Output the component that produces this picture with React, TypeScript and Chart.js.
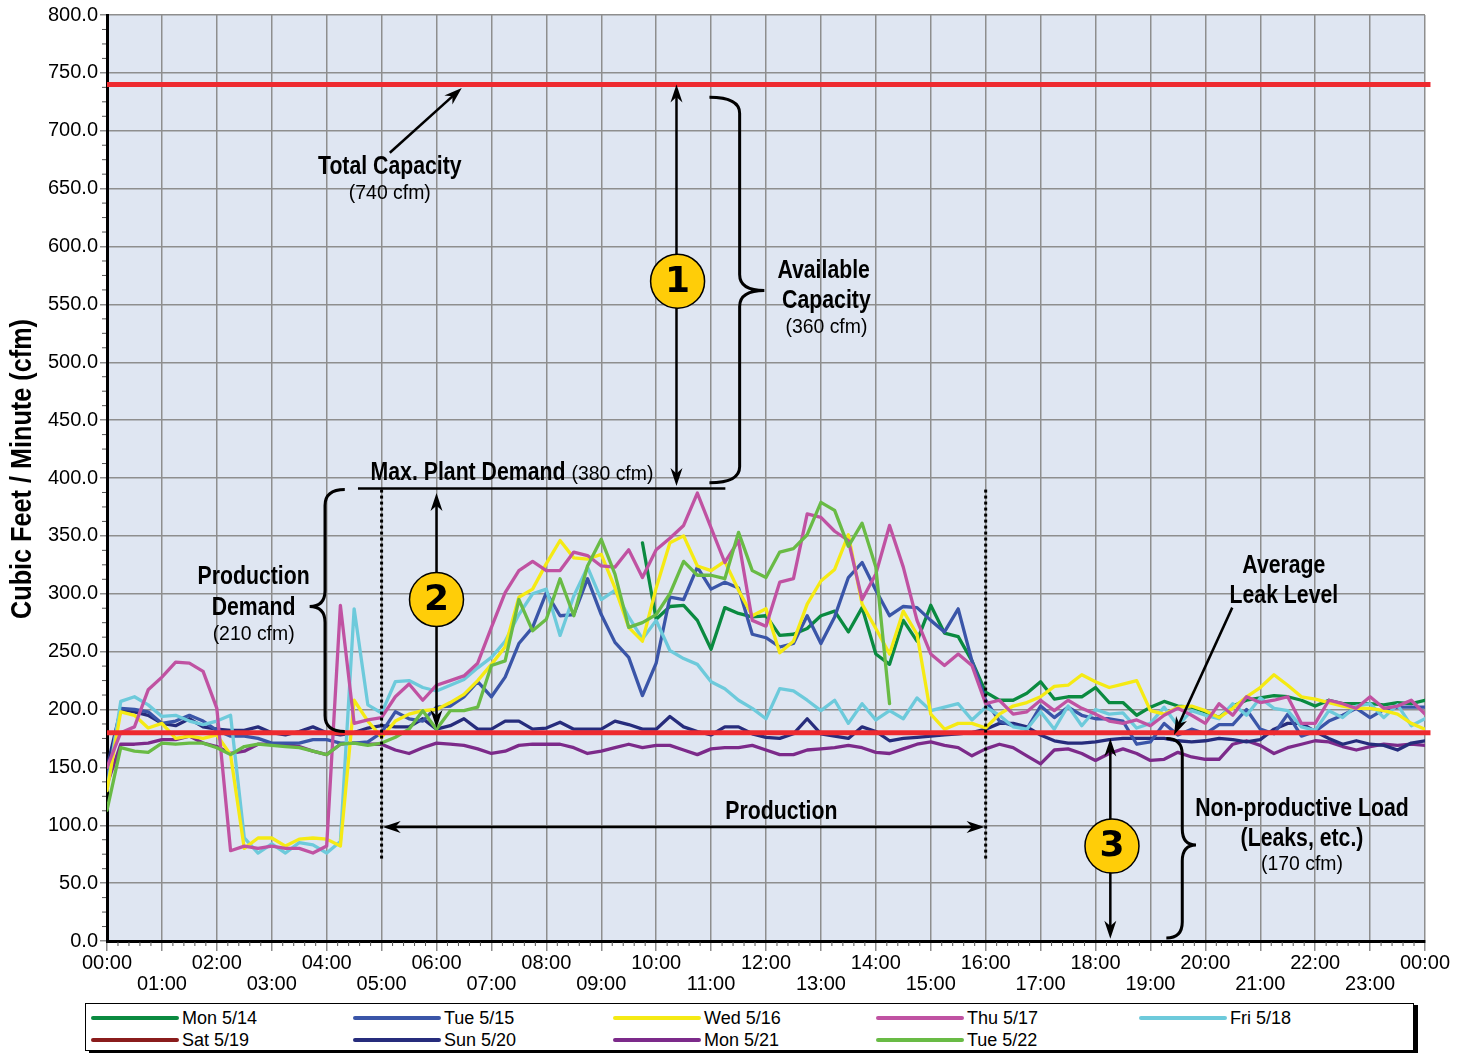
import React, { useEffect, useRef } from "react";
import { Chart, registerables } from "chart.js";

Chart.register(...registerables);

// ---------- data ----------
const STEP_HOURS = 0.25;
const times: number[] = Array.from({ length: 97 }, (_, i) => i * STEP_HOURS);
const hourTicks: number[] = Array.from({ length: 25 }, (_, i) => i);

const seriesNames = ["Mon 5/14", "Tue 5/15", "Wed 5/16", "Thu 5/17", "Fri 5/18", "Sat 5/19", "Sun 5/20", "Mon 5/21", "Tue 5/22"];
const seriesColors = ["#0a8a40", "#3a55a8", "#f5ea14", "#c052a2", "#6dcadb", "#8a1c1c", "#262c7c", "#7c2a8a", "#69bb45"];

const mon514: (number | null)[] = [
  ...Array(39).fill(null),
  344, 278, 289, 290, 277, 252, 288, 283, 280, 281,
  264, 265, 270, 281, 285, 267, 288, 248, 239, 277,
  259, 290, 266, 263, 242, 215, 208, 208, 214, 224,
  209, 211, 211, 219, 206, 206, 195, 202, 207, 203,
  202, 198, 193, 203, 208, 210, 212, 211, 208, 203,
  208, 205, 205, 205, 204, 206, 205, 208,
];
const tue515: (number | null)[] = [
  140, 201, 200, 198, 188, 190, 195, 190, 182, 177,
  177, 175, 171, 171, 171, 174, 174, 171, 171, 172,
  180, 198, 192, 190, 202, 203, 211, 224, 211, 228,
  257, 271, 301, 281, 282, 313, 282, 258, 245, 212,
  240, 297, 295, 323, 304, 310, 305, 265, 262, 254,
  257, 281, 257, 280, 314, 327, 303, 281, 289, 288,
  277, 267, 287, 242, 208, 190, 186, 183, 203, 193,
  202, 195, 192, 192, 190, 170, 172, 188, 178, 183,
  179, 187, 187, 200, 183, 179, 196, 177, 181, 190,
  195, 201, 193, 200, 202, 202, 202,
];
const wed516: (number | null)[] = [
  130, 198, 195, 184, 188, 175, 177, 175, 178, 161,
  80, 89, 89, 82, 88, 89, 88, 82, 208, 190,
  176, 190, 196, 199, 200, 206, 213, 225, 239, 254,
  297, 304, 326, 346, 331, 330, 334, 305, 271, 259,
  305, 344, 350, 324, 320, 328, 303, 281, 287, 249,
  259, 291, 311, 321, 351, 291, 270, 248, 285, 265,
  196, 183, 188, 188, 184, 196, 203, 206, 211, 220,
  221, 230, 224, 219, 222, 225, 199, 196, 202, 203,
  199, 193, 201, 211, 219, 230, 221, 211, 209, 206,
  203, 201, 201, 199, 196, 188, 183,
];
const thu517: (number | null)[] = [
  150, 180, 185, 217, 228, 241, 240, 233, 201, 78,
  82, 80, 82, 80, 80, 76, 82, 290, 188, 191,
  193, 211, 222, 208, 221, 225, 229, 240, 271, 301,
  320, 328, 320, 320, 336, 333, 324, 323, 338, 314,
  338, 348, 359, 387, 357, 327, 346, 277, 272, 310,
  313, 369, 366, 354, 346, 295, 317, 359, 323, 277,
  248, 238, 248, 238, 205, 208, 196, 198, 208, 199,
  208, 201, 196, 190, 188, 191, 186, 195, 201, 195,
  188, 205, 195, 211, 206, 208, 211, 188, 188, 208,
  205, 201, 211, 201, 203, 208, 196,
];
const fri518: (number | null)[] = [
  130, 207, 211, 204, 194, 195, 190, 187, 190, 195,
  89, 76, 84, 76, 85, 83, 76, 86, 287, 204,
  197, 224, 225, 219, 216, 221, 226, 236, 245, 259,
  282, 300, 304, 264, 298, 323, 295, 303, 280, 261,
  277, 251, 244, 239, 224, 218, 208, 201, 192, 218,
  216, 208, 199, 208, 188, 205, 191, 199, 192, 210,
  199, 202, 205, 191, 202, 195, 185, 183, 198, 183,
  203, 186, 200, 196, 197, 184, 188, 202, 186, 199,
  195, 192, 205, 195, 210, 201, 199, 185, 182, 199,
  193, 203, 205, 193, 204, 186, 192,
];
const sat519: (number | null)[] = [];
const sun520: (number | null)[] = [
  150, 200, 198, 195, 188, 186, 192, 185, 183, 182,
  182, 185, 180, 178, 181, 185, 180, 178, 180, 184,
  186, 185, 185, 192, 183, 186, 192, 183, 183, 190,
  190, 183, 184, 189, 183, 183, 183, 190, 187, 183,
  183, 194, 185, 181, 178, 185, 185, 179, 176, 175,
  179, 192, 179, 177, 175, 185, 181, 173, 175, 176,
  177, 178, 179, 180, 183, 188, 188, 185, 178, 173,
  171, 171, 172, 174, 175, 175, 175, 175, 173, 172,
  173, 175, 174, 172, 174, 183, 188, 188, 181, 175,
  170, 173, 170, 169, 165, 171, 173,
];
const mon521: (number | null)[] = [
  135, 170, 170, 171, 174, 174, 177, 171, 168, 162,
  164, 170, 170, 170, 168, 164, 161, 170, 171, 170,
  170, 165, 162, 167, 171, 170, 169, 166, 162, 164,
  169, 170, 170, 170, 167, 162, 164, 167, 170, 167,
  169, 169, 165, 161, 166, 167, 167, 169, 165, 161,
  161, 165, 166, 167, 169, 167, 163, 162, 166, 170,
  172, 169, 167, 160, 166, 170, 167, 160, 153, 165,
  166, 162, 156, 162, 166, 162, 156, 157, 163, 159,
  157, 157, 170, 173, 169, 162, 167, 170, 173, 172,
  168, 165, 168, 170, 169, 170, 169,
];
const tue522: (number | null)[] = [
  113, 167, 164, 163, 171, 170, 171, 171, 167, 161,
  168, 170, 169, 168, 167, 164, 161, 170, 171, 169,
  171, 176, 183, 199, 183, 199, 199, 202, 238, 242,
  295, 268, 278, 313, 281, 324, 347, 317, 271, 275,
  282, 300, 328, 316, 316, 313, 353, 320, 314, 336,
  339, 351, 379, 372, 341, 361, 323, 205,
];
const seriesValues = [mon514, tue515, wed516, thu517, fri518, sat519, sun520, mon521, tue522];

const totalCapacity = 740;
const averageLeakLevel = 180;
const yTickStep = 50;
const yAxisTitle = "Cubic Feet / Minute (cfm)";

// ---------- styles ----------
const PLOT_BG = "#dfe6f2";
const GRID = "#8e8e8e";
const SANS = "'Liberation Sans',Arial,Helvetica,sans-serif";
const RED = "#ee2a2f";
const BADGE = "#ffcd08";

type TextStyle = { font: string; sx: number };
const BOLD: TextStyle = { font: `bold 25px ${SANS}`, sx: 0.85 };
const REG: TextStyle = { font: `20px ${SANS}`, sx: 0.97 };
const TITLE: TextStyle = { font: `bold 29px ${SANS}`, sx: 0.87 };

function arrowHead(ctx: CanvasRenderingContext2D, x1: number, y1: number, x2: number, y2: number) {
  const len = 18, hw = 6;
  const a = Math.atan2(y2 - y1, x2 - x1);
  const c = Math.cos(a), s = Math.sin(a);
  ctx.beginPath();
  ctx.moveTo(x2, y2);
  ctx.lineTo(x2 - len * c + hw * s, y2 - len * s - hw * c);
  ctx.lineTo(x2 - len * 0.7 * c, y2 - len * 0.7 * s);
  ctx.lineTo(x2 - len * c - hw * s, y2 - len * s + hw * c);
  ctx.closePath();
  ctx.fill();
}

function arrow(ctx: CanvasRenderingContext2D, x1: number, y1: number, x2: number, y2: number, both: boolean) {
  const a = Math.atan2(y2 - y1, x2 - x1);
  const c = Math.cos(a), s = Math.sin(a);
  ctx.beginPath();
  ctx.moveTo(both ? x1 + 10 * c : x1, both ? y1 + 10 * s : y1);
  ctx.lineTo(x2 - 10 * c, y2 - 10 * s);
  ctx.stroke();
  arrowHead(ctx, x1, y1, x2, y2);
  if (both) arrowHead(ctx, x2, y2, x1, y1);
}

function brace(ctx: CanvasRenderingContext2D, xa: number, xm: number, xt: number, y1: number, y2: number, yt: number) {
  const r = 16;
  ctx.beginPath();
  ctx.moveTo(xa, y1);
  ctx.quadraticCurveTo(xm, y1, xm, y1 + r);
  ctx.lineTo(xm, yt - r);
  ctx.quadraticCurveTo(xm, yt, xt, yt);
  ctx.quadraticCurveTo(xm, yt, xm, yt + r);
  ctx.lineTo(xm, y2 - r);
  ctx.quadraticCurveTo(xm, y2, xa, y2);
  ctx.stroke();
}

function textWidth(ctx: CanvasRenderingContext2D, s: string, st: TextStyle) {
  ctx.font = st.font;
  return ctx.measureText(s).width * st.sx;
}

function label(ctx: CanvasRenderingContext2D, s: string, x: number, y: number, st: TextStyle, align: CanvasTextAlign = "center", rot = 0) {
  ctx.save();
  ctx.translate(x, y);
  if (rot) ctx.rotate(rot);
  ctx.scale(st.sx, 1);
  ctx.font = st.font;
  ctx.textAlign = align;
  ctx.textBaseline = "middle";
  ctx.fillStyle = "#000";
  ctx.fillText(s, 0, 0);
  ctx.restore();
}

function badge(ctx: CanvasRenderingContext2D, x: number, y: number, s: string) {
  ctx.beginPath();
  ctx.arc(x, y, 27, 0, Math.PI * 2);
  ctx.fillStyle = BADGE;
  ctx.fill();
  ctx.lineWidth = 1.5;
  ctx.strokeStyle = "#000";
  ctx.stroke();
  label(ctx, s, x, y + 1, { font: "bold 36px 'DejaVu Sans',sans-serif", sx: 1 });
}

const annotationPlugin = {
  id: "annotations",
  beforeDraw(chart: any) {
    const { ctx, chartArea: a } = chart;
    ctx.save();
    ctx.fillStyle = PLOT_BG;
    ctx.fillRect(a.left, a.top, a.right - a.left, a.bottom - a.top);
    ctx.restore();
  },
  afterDraw(chart: any) {
    const { ctx, chartArea: a } = chart;
    const X = (t: number) => chart.scales.x.getPixelForValue(t);
    const Y = (v: number) => chart.scales.y.getPixelForValue(v);
    ctx.save();
    // y-axis title
    label(ctx, yAxisTitle, 23, (a.top + a.bottom) / 2 - 9, TITLE, "center", -Math.PI / 2);

    // minor ticks
    ctx.strokeStyle = "#555";
    ctx.lineWidth = 1;
    for (let k = 1; k < 120; k++) {
      if (k % 5 === 0) continue;
      const x = X(k * 0.2);
      ctx.beginPath();
      ctx.moveTo(x, a.bottom + 1);
      ctx.lineTo(x, a.bottom + 5);
      ctx.stroke();
    }
    for (let k = 1; k < 64; k++) {
      if (k % 4 === 0) continue;
      const y = Y(k * 12.5);
      ctx.beginPath();
      ctx.moveTo(a.left - 5, y);
      ctx.lineTo(a.left - 1, y);
      ctx.stroke();
    }

    ctx.strokeStyle = "#000";
    ctx.fillStyle = "#000";
    ctx.lineCap = "butt";

    // Total capacity
    label(ctx, "Total Capacity", X(5.15), Y(669), BOLD);
    label(ctx, "(740 cfm)", X(5.15), Y(646), REG);
    ctx.lineWidth = 2.5;
    arrow(ctx, X(5.15), Y(681), X(6.46), Y(737), false);

    // Available capacity
    arrow(ctx, X(10.37), Y(740), X(10.37), Y(393), true);
    badge(ctx, X(10.39), Y(570), "1");
    ctx.strokeStyle = "#000";
    ctx.fillStyle = "#000";
    ctx.lineWidth = 3;
    brace(ctx, X(10.97), X(11.52), X(11.97), Y(729), Y(396), Y(562));
    label(ctx, "Available", X(13.05), Y(579), BOLD);
    label(ctx, "Capacity", X(13.1), Y(553), BOLD);
    label(ctx, "(360 cfm)", X(13.1), Y(530), REG);

    // Max plant demand
    ctx.lineWidth = 2.5;
    ctx.beginPath();
    ctx.moveTo(X(4.57), Y(391));
    ctx.lineTo(X(11.26), Y(391));
    ctx.stroke();
    const w = textWidth(ctx, "Max. Plant Demand", BOLD);
    label(ctx, "Max. Plant Demand", X(4.8), Y(404), BOLD, "left");
    label(ctx, "(380 cfm)", X(4.8) + w + 6, Y(403), REG, "left");

    // Production demand
    ctx.lineWidth = 2.5;
    arrow(ctx, X(6.0), Y(387), X(6.0), Y(184), true);
    badge(ctx, X(6.0), Y(295), "2");
    ctx.strokeStyle = "#000";
    ctx.fillStyle = "#000";
    ctx.lineWidth = 3;
    brace(ctx, X(4.33), X(3.97), X(3.69), Y(390), Y(181), Y(289));
    label(ctx, "Production", X(2.67), Y(314), BOLD);
    label(ctx, "Demand", X(2.67), Y(288), BOLD);
    label(ctx, "(210 cfm)", X(2.67), Y(265), REG);

    // production window
    ctx.lineWidth = 3;
    ctx.setLineDash([3, 3]);
    for (const t of [5, 16]) {
      ctx.beginPath();
      ctx.moveTo(X(t), Y(390));
      ctx.lineTo(X(t), Y(70));
      ctx.stroke();
    }
    ctx.setLineDash([]);
    ctx.lineWidth = 2.5;
    arrow(ctx, X(5.02), Y(98.5), X(15.98), Y(98.5), true);
    label(ctx, "Production", X(12.28), Y(111), BOLD);

    // Non-productive load
    arrow(ctx, X(18.27), Y(175), X(18.27), Y(2), true);
    badge(ctx, X(18.3), Y(82), "3");
    ctx.strokeStyle = "#000";
    ctx.fillStyle = "#000";
    ctx.lineWidth = 3;
    brace(ctx, X(19.29), X(19.58), X(19.83), Y(175), Y(2.5), Y(83));
    label(ctx, "Non-productive Load", X(21.76), Y(114), BOLD);
    label(ctx, "(Leaks, etc.)", X(21.76), Y(88), BOLD);
    label(ctx, "(170 cfm)", X(21.76), Y(66), REG);

    // Average leak level
    label(ctx, "Average", X(21.43), Y(324), BOLD);
    label(ctx, "Leak Level", X(21.43), Y(298), BOLD);
    ctx.lineWidth = 2.5;
    arrow(ctx, X(20.49), Y(288), X(19.43), Y(178), false);

    ctx.restore();
  },
};

export default function App() {
  const ref = useRef<HTMLCanvasElement>(null);
  useEffect(() => {
    const lineData = (vals: (number | null)[]) => vals.map((v, i) => ({ x: times[i], y: v }));
    const refLine = (v: number) => [{ x: 0, y: v }, { x: 24.1, y: v }];
    const datasets: any[] = [
      { label: "Total Capacity", data: refLine(totalCapacity), borderColor: RED, borderWidth: 5, borderCapStyle: "butt", clip: false },
      { label: "Average Leak Level", data: refLine(averageLeakLevel), borderColor: RED, borderWidth: 5, borderCapStyle: "butt", clip: false },
    ];
    const drawOrder = [8, 3, 2, 4, 1, 0, 6, 7, 5];
    for (const k of drawOrder) {
      datasets.push({
        label: seriesNames[k],
        data: lineData(seriesValues[k]),
        borderColor: seriesColors[k],
        borderWidth: 3.3,
        spanGaps: false,
      });
    }
    const chart = new Chart(ref.current as HTMLCanvasElement, {
      type: "line",
      data: { datasets },
      options: {
        animation: false,
        responsive: false,
        maintainAspectRatio: false,
        layout: { padding: { top: 15, right: 44, left: 0, bottom: 0 } },
        plugins: { legend: { display: false }, tooltip: { enabled: false } },
        elements: { point: { radius: 0 }, line: { tension: 0, borderJoinStyle: "round", borderCapStyle: "round" } },
        scales: {
          x: {
            type: "linear",
            min: 0,
            max: 24,
            afterFit: (s: any) => { s.height = 59; },
            afterBuildTicks: (s: any) => { s.ticks = hourTicks.map((v) => ({ value: v })); },
            ticks: {
              autoSkip: false,
              maxRotation: 0,
              color: "#000",
              padding: 2,
              font: { family: SANS, size: 20, lineHeight: 1.05 },
              callback: (v: any) => {
                const h = Number(v);
                const s = `${String(h % 24).padStart(2, "0")}:00`;
                return h % 2 === 0 ? s : ["", s];
              },
            },
            grid: { color: GRID, lineWidth: 1.5, tickLength: 10 },
            border: { color: "#000", width: 3 },
          },
          y: {
            min: 0,
            max: 800,
            afterFit: (s: any) => { s.width = 107; },
            ticks: {
              stepSize: yTickStep,
              color: "#000",
              padding: 2,
              font: { family: SANS, size: 20 },
              callback: (v: any) => Number(v).toFixed(1),
            },
            grid: { color: GRID, lineWidth: 1.5, tickLength: 7 },
            border: { color: "#000", width: 3 },
          },
        },
      } as any,
      plugins: [annotationPlugin as any],
    });
    return () => chart.destroy();
  }, []);

  const cols = [5, 267, 527, 790, 1053];
  return (
    <div style={{ position: "absolute", left: 0, top: 0, width: 1469, height: 1055, background: "#fff" }}>
      <canvas ref={ref} width={1469} height={1000} style={{ display: "block", width: 1469, height: 1000 }} />
      <div
        style={{
          position: "absolute",
          left: 85,
          top: 1003,
          width: 1327,
          height: 46,
          border: "1px solid #000",
          boxShadow: "4px 2px 0 #000",
          background: "#fff",
        }}
      >
        {seriesNames.map((name, k) => {
          const row = k < 5 ? 0 : 1;
          const col = k % 5;
          return (
            <div
              key={name}
              style={{
                position: "absolute",
                left: cols[col],
                top: row === 0 ? 4 : 26,
                height: 20,
                display: "flex",
                alignItems: "center",
                whiteSpace: "nowrap",
              }}
            >
              <span style={{ display: "inline-block", width: 88, height: 4, borderRadius: 2, background: seriesColors[k] }} />
              <span style={{ marginLeft: 3, font: `18px ${SANS}`, color: "#000" }}>{name}</span>
            </div>
          );
        })}
      </div>
    </div>
  );
}
